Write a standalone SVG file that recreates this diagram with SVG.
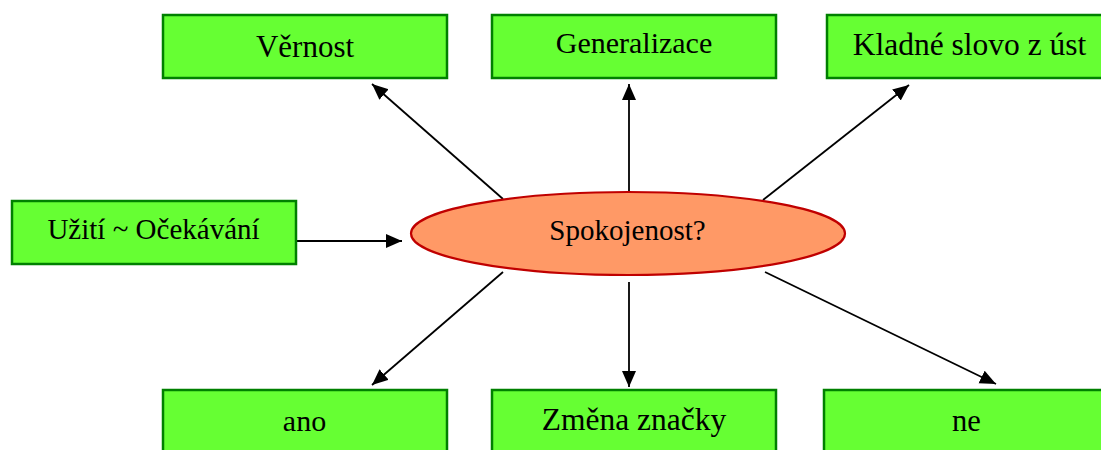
<svg xmlns="http://www.w3.org/2000/svg" width="1101" height="450" viewBox="0 0 1101 450">
<style>
.box{fill:#66FF33;stroke:#008000;stroke-width:2.5}
.ell{fill:#FF9966;stroke:#C00000;stroke-width:2.2}
.t{font-family:"Liberation Serif","Times New Roman",serif;fill:#000;text-anchor:middle}
.c{stroke:#000;stroke-width:1.8;fill:none;marker-end:url(#ah)}
</style>
<defs>
<marker id="ah" markerUnits="userSpaceOnUse" markerWidth="17" markerHeight="15" refX="16" refY="7" orient="auto">
<path d="M0,0 L16,7 L0,14 Z" fill="#000"/>
</marker>
</defs>
<rect width="1101" height="450" fill="#fff"/>
<g id="connectors">
<line class="c" x1="503" y1="199" x2="372" y2="84"/>
<line class="c" x1="629" y1="192" x2="629" y2="84"/>
<line class="c" x1="763" y1="200" x2="909" y2="85"/>
<line class="c" x1="297" y1="241" x2="402" y2="241"/>
<line class="c" x1="503" y1="272" x2="372" y2="385"/>
<line class="c" x1="629" y1="282" x2="629" y2="387"/>
<line class="c" x1="765" y1="272" x2="996" y2="384"/>
</g>
<g id="n-vernost"><rect class="box" x="163" y="15" width="284" height="63"/><text class="t" x="305" y="57" font-size="31">Věrnost</text></g>
<g id="n-generalizace"><rect class="box" x="492" y="15" width="284" height="63"/><text class="t" x="634" y="53" font-size="30">Generalizace</text></g>
<g id="n-kladne"><rect class="box" x="827" y="15" width="285" height="63"/><text class="t" x="969.5" y="55" font-size="31.5">Kladné slovo z úst</text></g>
<g id="n-uziti"><rect class="box" x="12" y="201" width="284" height="63"/><text class="t" x="153.5" y="239" font-size="29">Užití ~ Očekávání</text></g>
<g id="n-spokojenost"><ellipse class="ell" cx="628" cy="233.5" rx="217" ry="41.5"/><text class="t" x="627.5" y="240" font-size="29">Spokojenost?</text></g>
<g id="n-ano"><rect class="box" x="163" y="390" width="284" height="70"/><text class="t" x="304.5" y="431" font-size="30">ano</text></g>
<g id="n-zmena"><rect class="box" x="492" y="390" width="284" height="70"/><text class="t" x="634" y="430" font-size="31.5">Změna značky</text></g>
<g id="n-ne"><rect class="box" x="824" y="390" width="286" height="70"/><text class="t" x="966.5" y="431" font-size="30.5">ne</text></g>
</svg>
